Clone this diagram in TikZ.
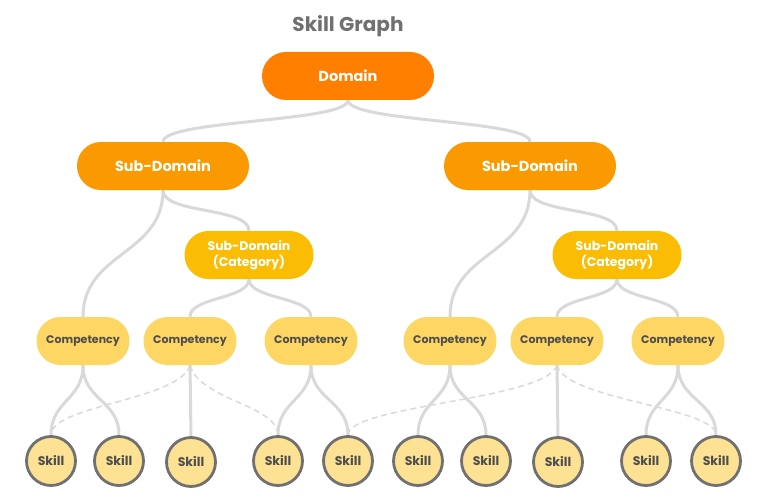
\documentclass[tikz,border=0pt]{standalone}
\usepackage{fontspec}
\setmainfont{Poppins}
\usetikzlibrary{backgrounds}
\definecolor{domc}{HTML}{FF8000}
\definecolor{subc}{HTML}{FB9A00}
\definecolor{catc}{HTML}{FBBC04}
\definecolor{compc}{HTML}{FDD663}
\definecolor{skillc}{HTML}{FDE293}
\definecolor{skillb}{HTML}{707070}
\definecolor{edgec}{HTML}{D9D9D9}
\definecolor{darktxt}{HTML}{4D4D4D}
\definecolor{titlec}{HTML}{707070}
\tikzset{
  pill/.style={rounded corners=23.9pt, minimum height=48pt, inner sep=0pt, align=center, draw=none},
  dom/.style={pill, fill=domc, minimum width=172pt, text=white, font=\fontsize{14.5}{15}\selectfont\bfseries},
  sub/.style={pill, fill=subc, minimum width=172pt, text=white, font=\fontsize{14.5}{15}\selectfont\bfseries},
  cat/.style={pill, fill=catc, minimum width=129pt, text=white, font=\fontsize{12.5}{16}\selectfont\bfseries},
  comp/.style={pill, fill=compc, minimum width=93pt, text=darktxt, font=\fontsize{11}{12}\selectfont\bfseries},
  skill/.style={circle, fill=skillc, draw=skillb, line width=2.8pt, minimum size=49pt, inner sep=0pt, text=darktxt, font=\fontsize{12.5}{13}\selectfont\bfseries},
  ttl/.style={text=titlec, font=\fontsize{20}{22}\selectfont\bfseries, anchor=base},
  link/.style={draw=edgec, line width=3pt},
  dlink/.style={draw=edgec, line width=1.5pt, dash pattern=on 6pt off 4pt}
}
\begin{document}
\begin{tikzpicture}[x=1pt,y=-1pt]
\useasboundingbox (0,0) rectangle (757,500);
\node[ttl] (T) at (348,32) {Skill Graph};
\node[dom] (D) at (348,76) {Domain};
\node[sub] (SL) at (163,166) {Sub-Domain};
\node[sub] (SR) at (530,166) {Sub-Domain};
\node[cat] (CL) at (249,255) {Sub-Domain\\(Category)};
\node[cat] (CR) at (617,255) {Sub-Domain\\(Category)};
\node[comp] (C1) at (83,341) {Competency};
\node[comp] (C2) at (190,341) {Competency};
\node[comp] (C3) at (311,341) {Competency};
\node[comp] (C4) at (450,341) {Competency};
\node[comp] (C5) at (557,341) {Competency};
\node[comp] (C6) at (678,341) {Competency};
\node[skill] (K1) at (51,461) {Skill};
\node[skill] (K2) at (119,461) {Skill};
\node[skill] (K3) at (191,462) {Skill};
\node[skill] (K4) at (278,461) {Skill};
\node[skill] (K5) at (348,461) {Skill};
\node[skill] (K6) at (418,461) {Skill};
\node[skill] (K7) at (486,461) {Skill};
\node[skill] (K8) at (558,462) {Skill};
\node[skill] (K9) at (646,461) {Skill};
\node[skill] (K10) at (716,461) {Skill};
\begin{pgfonlayer}{background}
\draw[link] (D.south) .. controls +(0,22) and +(0,-22) .. (SL.north);
\draw[link] (D.south) .. controls +(0,22) and +(0,-22) .. (SR.north);
\draw[link] (SL.south) .. controls +(0,65) and +(0,-65) .. (C1.north);
\draw[link] (SL.south) .. controls +(0,24) and +(0,-24) .. (CL.north);
\draw[link] (SR.south) .. controls +(0,65) and +(0,-65) .. (C4.north);
\draw[link] (SR.south) .. controls +(0,24) and +(0,-24) .. (CR.north);
\draw[link] (CL.south) .. controls +(0,20) and +(0,-20) .. (C2.north);
\draw[link] (CL.south) .. controls +(0,20) and +(0,-20) .. (C3.north);
\draw[link] (CR.south) .. controls +(0,20) and +(0,-20) .. (C5.north);
\draw[link] (CR.south) .. controls +(0,20) and +(0,-20) .. (C6.north);
\draw[link] (C1.south) .. controls +(0,35) and +(0,-35) .. (K1.north);
\draw[link] (C1.south) .. controls +(0,35) and +(0,-35) .. (K2.north);
\draw[link] (C2.south) -- (K3.north);
\draw[link] (C3.south) .. controls +(0,35) and +(0,-35) .. (K4.north);
\draw[link] (C3.south) .. controls +(0,35) and +(0,-35) .. (K5.north);
\draw[link] (C4.south) .. controls +(0,35) and +(0,-35) .. (K6.north);
\draw[link] (C4.south) .. controls +(0,35) and +(0,-35) .. (K7.north);
\draw[link] (C5.south) -- (K8.north);
\draw[link] (C6.south) .. controls +(0,35) and +(0,-35) .. (K9.north);
\draw[link] (C6.south) .. controls +(0,35) and +(0,-35) .. (K10.north);
\draw[dlink] (C2.south) .. controls +(-10,35) and +(0,-30) .. (K1.north);
\draw[dlink] (C2.south) .. controls +(10,35) and +(0,-30) .. (K4.north);
\draw[dlink] (C5.south) .. controls +(-11,35) and +(0,-30) .. (K5.north);
\draw[dlink] (C5.south) .. controls +(9,35) and +(0,-28) .. (K10.north);
\end{pgfonlayer}
\end{tikzpicture}
\end{document}
